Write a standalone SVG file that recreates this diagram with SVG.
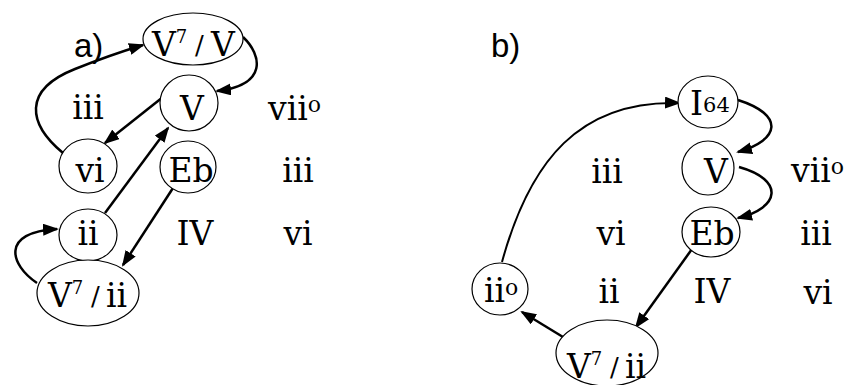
<svg xmlns="http://www.w3.org/2000/svg" width="845" height="385" viewBox="0 0 845 385">
<defs>
<style>
.node{fill:#fff;stroke:#000;stroke-width:1.2}
.t{font-family:"DejaVu Serif","Liberation Serif",serif;font-size:33px;fill:#000}
.m{text-anchor:middle}
.sup{font-size:18px}
.sl{font-size:26px}
.deg{font-size:22px}
.lab{font-family:"Liberation Sans",Arial,sans-serif;font-size:33px;fill:#000}
.e{fill:none;stroke:#000;stroke-width:2.5}
.e2{fill:none;stroke:#000;stroke-width:2}
</style>
<marker id="ah" markerUnits="userSpaceOnUse" markerWidth="16" markerHeight="12" refX="14" refY="6" orient="auto">
<path d="M0,0 L16,6 L0,12 z" fill="#000"/>
</marker>
</defs>
<rect width="845" height="385" fill="#fff"/>

<text class="lab" x="74" y="57">a)</text>
<text class="lab" x="491" y="57">b)</text>

<g id="edges">
<path class="e" d="M63,153 C28,124 22,90 75,69 C95,61 120,52 143,45" marker-end="url(#ah)"/>
<path class="e" d="M243,37 C262,55 268,85 217,91" marker-end="url(#ah)"/>
<path class="e" d="M163,97 L105,143" marker-end="url(#ah)"/>
<path class="e" d="M105,213 L168,128" marker-end="url(#ah)"/>
<path class="e" d="M173,188 L123,265" marker-end="url(#ah)"/>
<path class="e" d="M37,283 C10,265 0,232 57,229" marker-end="url(#ah)"/>
<path class="e2" d="M502,262 C530,160 580,100 679,103" marker-end="url(#ah)"/>
<path class="e" d="M738,100 C785,115 780,140 738,152" marker-end="url(#ah)"/>
<path class="e" d="M739,167 C785,180 780,208 738,218" marker-end="url(#ah)"/>
<path class="e" d="M692,249 L636,327" marker-end="url(#ah)"/>
<path class="e" d="M563,337 L522,312" marker-end="url(#ah)"/>
</g>

<g id="a_V7V">
<ellipse class="node" cx="193" cy="39" rx="50" ry="26"/>
<text class="t" x="152" y="56">V<tspan class="sup" dy="-13">7</tspan><tspan class="sl" x="195" dy="11">/</tspan><tspan x="211" dy="2">V</tspan></text>
</g>
<g id="a_V">
<ellipse class="node" cx="189" cy="103" rx="29" ry="28"/>
<text class="t m" x="192" y="120">V</text>
</g>
<g id="a_vi">
<ellipse class="node" cx="88" cy="166" rx="29" ry="27"/>
<text class="t m" x="90" y="182">vi</text>
</g>
<g id="a_Eb">
<ellipse class="node" cx="188" cy="167" rx="28" ry="26"/>
<text class="t m" x="191" y="182">Eb</text>
</g>
<g id="a_ii">
<ellipse class="node" cx="88" cy="235" rx="29" ry="26"/>
<text class="t m" x="88" y="245">ii</text>
</g>
<g id="a_V7ii">
<ellipse class="node" cx="88" cy="293" rx="51" ry="33"/>
<text class="t" x="48" y="307">V<tspan class="sup" dy="-13">7</tspan><tspan class="sl" x="91" dy="11">/</tspan><tspan x="106" dy="2">ii</tspan></text>
</g>
<g id="a_labels">
<text class="t m" x="88" y="119">iii</text>
<text class="t" x="268" y="120">vii<tspan class="deg" dy="-8">o</tspan></text>
<text class="t m" x="298" y="182">iii</text>
<text class="t m" x="195" y="245">IV</text>
<text class="t m" x="298" y="245">vi</text>
</g>

<g id="b_I64">
<ellipse class="node" cx="708" cy="102" rx="30" ry="26"/>
<text class="t" x="690" y="115" font-size="25">I<tspan font-size="21" dy="-3">64</tspan></text>
</g>
<g id="b_V">
<ellipse class="node" cx="708" cy="168" rx="26" ry="27"/>
<text class="t m" x="716" y="183">V</text>
</g>
<g id="b_Eb">
<ellipse class="node" cx="711" cy="232" rx="29" ry="25"/>
<text class="t m" x="712" y="245">Eb</text>
</g>
<g id="b_ii0">
<ellipse class="node" cx="500" cy="289" rx="28" ry="26"/>
<text class="t" x="484" y="302">ii<tspan class="deg" dy="-7">o</tspan></text>
</g>
<g id="b_V7ii">
<ellipse class="node" cx="607" cy="353" rx="51" ry="33"/>
<text class="t" x="567" y="378">V<tspan class="sup" dy="-13">7</tspan><tspan class="sl" x="610" dy="11">/</tspan><tspan x="625" dy="2">ii</tspan></text>
</g>
<g id="b_labels">
<text class="t m" x="607" y="183">iii</text>
<text class="t" x="791" y="182">vii<tspan class="deg" dy="-8">o</tspan></text>
<text class="t m" x="611" y="245">vi</text>
<text class="t m" x="816" y="245">iii</text>
<text class="t m" x="609" y="303">ii</text>
<text class="t m" x="712" y="303">IV</text>
<text class="t m" x="818" y="304">vi</text>
</g>
</svg>
